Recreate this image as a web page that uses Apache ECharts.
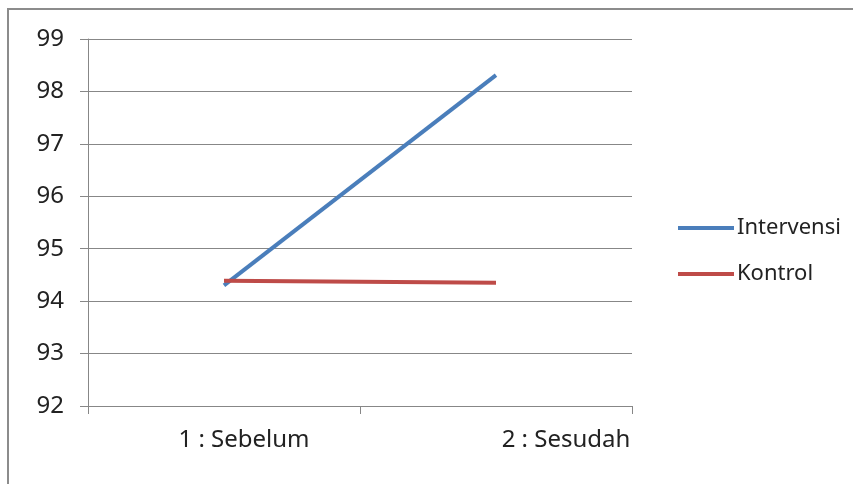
<!DOCTYPE html>
<html>
<head>
<meta charset="utf-8">
<script src="https://cdn.jsdelivr.net/npm/echarts@6/dist/echarts.min.js"></script>
<style>
  html, body { margin: 0; padding: 0; background: #fff; }
  #chart { width: 853px; height: 484px; }
</style>
</head>
<body>
<div id="chart"></div>
<script>
// Phase labels along the x axis
const categories = ['1 : Sebelum', '2 : Sesudah'];
// Mean scores per group
const intervensi = [94.30, 98.31];
const kontrol = [94.39, 94.35];
// Value axis range
const yMin = 92;
const yMax = 99;
const yStep = 1;

const FONT = 'Noto Sans';
const chart = echarts.init(document.getElementById('chart'));

chart.setOption({
  backgroundColor: '#ffffff',
  animation: false,
  textStyle: { fontFamily: FONT },
  graphic: [
    { type: 'line', shape: { x1: 7, y1: 9, x2: 853, y2: 9 }, style: { stroke: '#8c8c8c', lineWidth: 2 } },
    { type: 'line', shape: { x1: 8, y1: 9, x2: 8, y2: 484 }, style: { stroke: '#8c8c8c', lineWidth: 2 } }
  ],
  grid: { left: 88, right: 221, top: 39, bottom: 78 },
  legend: {
    orient: 'vertical',
    left: 673,
    top: 212,
    icon: 'rect',
    itemWidth: 56,
    itemHeight: 4,
    itemGap: 24,
    textStyle: { fontFamily: FONT, fontSize: 22, color: '#222', padding: [0, 0, 0, -2] },
    data: ['Intervensi', 'Kontrol']
  },
  xAxis: {
    type: 'category',
    data: [
      { value: categories[0], textStyle: { padding: [0, 0, 0, 40] } },
      { value: categories[1], textStyle: { padding: [0, 0, 0, 140] } }
    ],
    boundaryGap: true,
    axisLine: { lineStyle: { color: '#878787', width: 1 } },
    axisTick: { show: true, length: 8, alignWithLabel: false, lineStyle: { color: '#878787' } },
    axisLabel: { fontFamily: FONT, fontSize: 24, color: '#222', margin: 22 }
  },
  yAxis: {
    type: 'value',
    min: yMin,
    max: yMax,
    interval: yStep,
    axisLine: { show: true, lineStyle: { color: '#878787', width: 1 } },
    axisTick: { show: true, length: 8, lineStyle: { color: '#878787' } },
    axisLabel: { fontFamily: FONT, fontSize: 24, color: '#222', margin: 24 },
    splitLine: { show: true, lineStyle: { color: '#878787', width: 1 } }
  },
  series: [
    {
      name: 'Intervensi',
      type: 'line',
      data: intervensi,
      symbol: 'none',
      color: '#4a7ebb',
      lineStyle: { color: '#4a7ebb', width: 4 }
    },
    {
      name: 'Kontrol',
      type: 'line',
      data: kontrol,
      symbol: 'none',
      color: '#be4b48',
      lineStyle: { color: '#be4b48', width: 4 }
    }
  ]
});
</script>
</body>
</html>
